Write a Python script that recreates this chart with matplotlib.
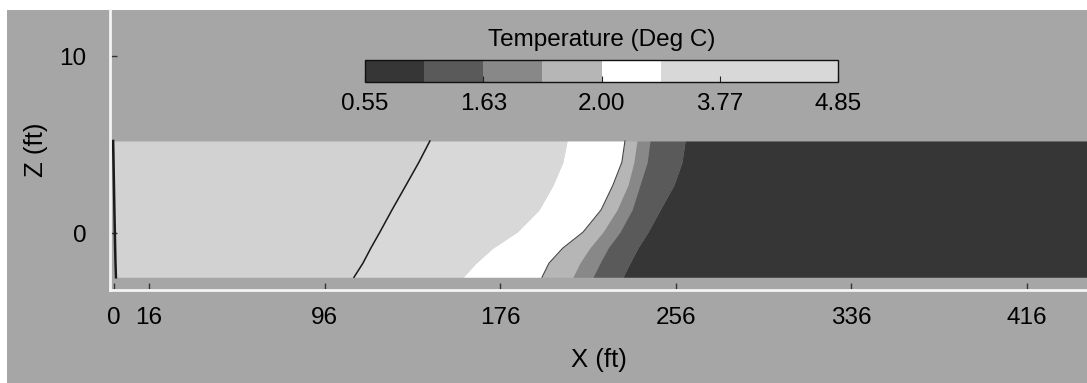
import matplotlib
matplotlib.use('Agg')
import matplotlib.pyplot as plt
from matplotlib.colors import ListedColormap, BoundaryNorm
from matplotlib.colorbar import ColorbarBase
from matplotlib.patches import Rectangle

plt.rcParams['font.family'] = ['Liberation Sans', 'DejaVu Sans']
plt.rcParams['font.size'] = 17.5

# depth samples (ft) and x positions (ft) of each contour boundary
z = [5.2, 4.0, 2.7, 1.3, 0.05, -0.85, -1.7, -2.5]
edge_line = [-0.4, -0.2, 0.0, 0.2, 0.4, 0.55, 0.7, 0.9]
front_line = [144.0, 139.0, 133.1, 126.7, 121.2, 117.1, 113.5, 109.4]
white_left = [206.5, 204.6, 200.1, 193.7, 183.7, 172.7, 165.0, 159.1]
white_right = [232.9, 231.5, 227.4, 222.0, 213.8, 204.6, 198.3, 195.1]
band_a_right = [238.4, 237.0, 234.3, 229.3, 222.9, 216.9, 212.4, 209.2]
band_b_right = [244.3, 243.0, 239.7, 236.1, 230.6, 225.2, 221.5, 218.3]
band_c_right = [260.3, 258.9, 255.2, 248.9, 243.4, 238.8, 235.2, 232.0]
x_start, x_end = 0.0, 445.0

# colour legend
level_colors = ['#363636', '#5a5a5a', '#888888', '#b6b6b6',
                '#ffffff', '#d8d8d8', '#d8d8d8', '#d8d8d8']
left_color = '#d2d2d2'
level_labels = ['0.55', '1.63', '2.00', '3.77', '4.85']

x_ticks = [0, 16, 96, 176, 256, 336, 416]
z_ticks = [0, 10]

bg = '#a6a6a6'

fig = plt.figure(figsize=(10.87, 3.83), dpi=100)
fig.patch.set_facecolor('white')
fig.patches.append(Rectangle((7 / 1087, 0), 1, 373 / 383, transform=fig.transFigure,
                             facecolor=bg, edgecolor='none', zorder=-10))

ax = fig.add_axes([110 / 1087, 93 / 383, 1 - 110 / 1087, 280 / 383])
ax.set_facecolor(bg)

n = len(z)
bands = [
    ([x_start] * n, front_line, left_color),
    (front_line, white_left, level_colors[5]),
    (white_left, white_right, level_colors[4]),
    (white_right, band_a_right, level_colors[3]),
    (band_a_right, band_b_right, level_colors[2]),
    (band_b_right, band_c_right, level_colors[1]),
    (band_c_right, [x_end] * n, level_colors[0]),
]
for left, right, c in bands:
    ax.fill_betweenx(z, left, right, color=c, lw=0)

ax.plot(front_line, z, color='#1a1a1a', lw=1.1)
ax.plot(edge_line, z, color='#1a1a1a', lw=1.8)
ax.plot(white_right, z, color='#444444', lw=0.8)

ax.set_xlim(-1.8, 443.5)
ax.set_ylim(-3.22, 12.6)
ax.set_xticks(x_ticks)
ax.set_yticks(z_ticks)
ax.tick_params(direction='in', length=5, width=1, color='#333333')
ax.tick_params(axis='x', pad=12)
ax.tick_params(axis='y', pad=17)
for s in ['top', 'right']:
    ax.spines[s].set_visible(False)
for s in ['left', 'bottom']:
    ax.spines[s].set_color('#f4f4f4')
    ax.spines[s].set_linewidth(2)
ax.set_xlabel('X (ft)', labelpad=14, fontsize=18.5)
ax.set_ylabel('Z (ft)', labelpad=8, fontsize=18.5)

cax = fig.add_axes([365 / 1087, (383 - 82) / 383, 473 / 1087, 22 / 383])
cmap = ListedColormap(level_colors)
norm = BoundaryNorm(list(range(len(level_colors) + 1)), len(level_colors))
cb = ColorbarBase(cax, cmap=cmap, norm=norm, orientation='horizontal',
                  ticks=[0, 2, 4, 6, 8])
cb.set_ticklabels(level_labels)
cb.minorticks_off()
cb.outline.set_edgecolor('#111111')
cb.outline.set_linewidth(1)
cax.tick_params(direction='in', length=4, pad=8, color='#222222')
cax.set_title('Temperature (Deg C)', pad=10, fontsize=17.5)

fig.savefig('out.png', dpi=100)
